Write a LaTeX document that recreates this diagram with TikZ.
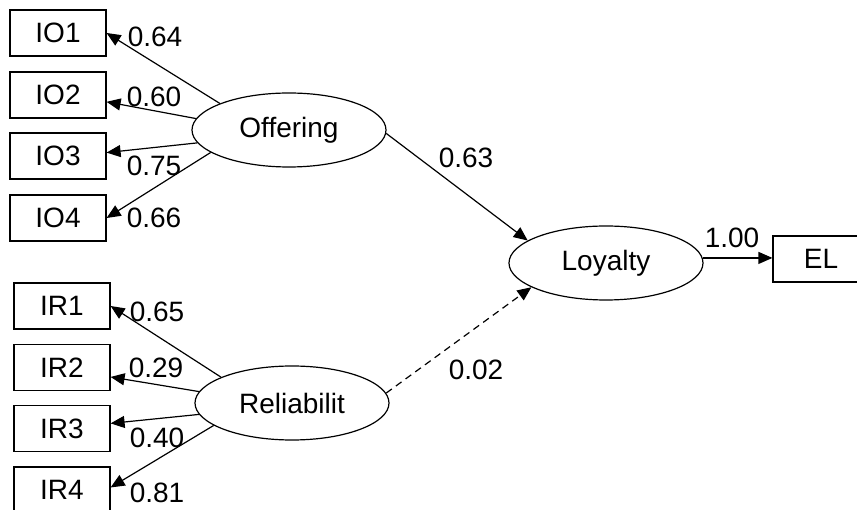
\documentclass[tikz,border=0pt]{standalone}
\usepackage{fontspec}
\setmainfont{Liberation Sans}
\usetikzlibrary{shapes.geometric,arrows.meta}
\begin{document}
\begin{tikzpicture}[x=1pt,y=-1pt,
  every node/.style={font=\fontsize{28}{31}\selectfont},
  obs/.style={draw,line width=1.2pt,rectangle,minimum width=96pt,minimum height=46pt,inner sep=0pt},
  lat/.style={draw,line width=1.2pt,ellipse,minimum width=194pt,minimum height=74pt,inner sep=0pt},
  arr/.style={line width=1.2pt,-{Triangle[length=14pt,width=12pt]}},
  lbl/.style={inner sep=0pt}]
\useasboundingbox (0,0) rectangle (857,510);
\clip (0,0) rectangle (857,510);
% observed boxes
\node[obs] (io1) at (58,33) {IO1};
\node[obs] (io2) at (58,95) {IO2};
\node[obs] (io3) at (58,156) {IO3};
\node[obs] (io4) at (58,218) {IO4};
\node[obs] (ir1) at (62,306) {IR1};
\node[obs] (ir2) at (62,367.5) {IR2};
\node[obs] (ir3) at (62,428.5) {IR3};
\node[obs] (ir4) at (62,490) {IR4};
\node[obs] (el) at (821,259) {EL};
% latent ellipses
\node[lat] (off) at (289,130) {Offering};
\node[lat] (rel) at (292,403) {Reliabilit};
\node[lat] (loy) at (606,263) {Loyalty};
% loadings
\draw[arr] (off.159) -- (io1.east);
\draw[arr] (off.173) -- (io2.-8);
\draw[arr] (off.188) -- (io3.4);
\draw[arr] (off.196) -- (io4.east);
\draw[arr] (rel.160) -- (ir1.east);
\draw[arr] (rel.173) -- (ir2.-11);
\draw[arr] (rel.187) -- (ir3.6);
\draw[arr] (rel.196) -- (ir4.3);
% structural paths
\draw[arr] (off.358) -- (loy.164);
\draw[arr,dash pattern=on 7pt off 5pt] (rel.6) -- (loy.198);
\draw[arr] (loy.3) -- (loy.3 -| el.west);
% labels
\node[lbl] (l64) at (155,37) {0.64};
\node[lbl] (l60) at (154,97) {0.60};
\node[lbl] (l75) at (154,166) {0.75};
\node[lbl] (l66) at (154,218) {0.66};
\node[lbl] (l65) at (157,312) {0.65};
\node[lbl] (l29) at (156,368) {0.29};
\node[lbl] (l40) at (157,438) {0.40};
\node[lbl] (l81) at (157,493) {0.81};
\node[lbl] (l63) at (466,158) {0.63};
\node[lbl] (l02) at (476,370) {0.02};
\node[lbl] (l100) at (732,238) {1.00};
\end{tikzpicture}
\end{document}
